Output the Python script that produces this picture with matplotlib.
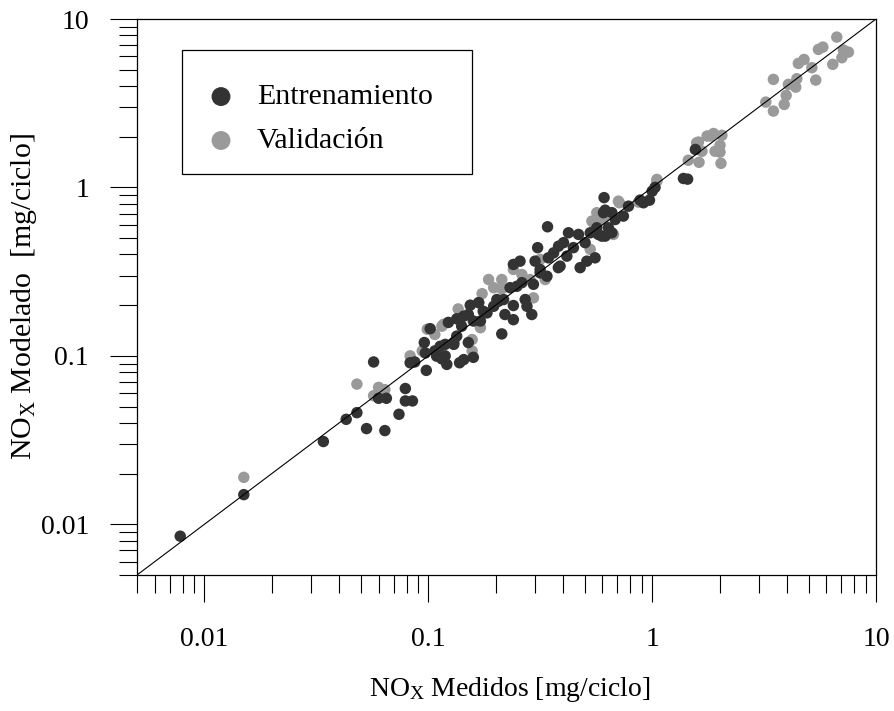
import matplotlib
matplotlib.use("Agg")
import matplotlib.pyplot as plt
from matplotlib.patches import Rectangle
from matplotlib.ticker import LogLocator, FixedLocator, FixedFormatter, NullFormatter

plt.rcParams['font.family'] = ['Liberation Serif', 'DejaVu Serif']
plt.rcParams['mathtext.fontset'] = 'custom'
plt.rcParams['mathtext.rm'] = 'Liberation Serif'
plt.rcParams['mathtext.it'] = 'Liberation Serif:italic'

# NOx medido vs modelado [mg/ciclo]
train_x = [0.0078, 0.015, 0.034, 0.043, 0.048, 0.053, 0.064, 0.057, 0.060, 0.065,
           0.074, 0.079, 0.079, 0.085, 0.083, 0.087, 0.098, 0.096, 0.102, 0.107,
           0.113, 0.119, 0.121, 0.13, 0.134, 0.138, 0.144, 0.151, 0.159, 0.123,
           0.134, 0.144, 0.151, 0.154, 0.168, 0.171, 0.183, 0.196, 0.206, 0.217,
           0.22, 0.24, 0.24, 0.271, 0.276, 0.29, 0.213, 0.232, 0.249, 0.262,
           0.295, 0.24, 0.257, 0.30, 0.308, 0.316, 0.339, 0.344, 0.363, 0.382,
           0.402, 0.388, 0.423, 0.469, 0.445, 0.416, 0.477, 0.511, 0.556, 0.502,
           0.529, 0.575, 0.617, 0.661, 0.341, 0.606, 0.661, 0.744, 0.784, 0.915,
           1.56, 1.38, 1.44, 1.03, 1.0, 0.884, 0.973, 0.61, 0.617, 0.566,
           0.638, 0.684, 0.596, 0.115, 0.141, 0.159, 0.109, 0.097, 0.13, 0.119,
           0.381, 0.316, 0.2025, 0.176]
train_y = [0.0085, 0.015, 0.031, 0.042, 0.046, 0.037, 0.036, 0.092, 0.056, 0.056,
           0.045, 0.064, 0.054, 0.054, 0.091, 0.092, 0.082, 0.12, 0.145, 0.107,
           0.114, 0.10, 0.089, 0.12, 0.131, 0.091, 0.095, 0.12, 0.098, 0.158,
           0.166, 0.172, 0.176, 0.20, 0.207, 0.161, 0.18, 0.197, 0.211, 0.216,
           0.176, 0.164, 0.199, 0.216, 0.197, 0.176, 0.135, 0.254, 0.259, 0.272,
           0.266, 0.349, 0.365, 0.365, 0.439, 0.311, 0.297, 0.382, 0.409, 0.448,
           0.47, 0.341, 0.538, 0.526, 0.439, 0.391, 0.334, 0.365, 0.382, 0.47,
           0.538, 0.526, 0.514, 0.538, 0.584, 0.708, 0.708, 0.676, 0.774, 0.811,
           1.68, 1.13, 1.12, 1.0, 0.95, 0.841, 0.84, 0.87, 0.733, 0.576,
           0.576, 0.645, 0.514, 0.096, 0.15, 0.161, 0.0996, 0.104, 0.117, 0.117,
           0.334, 0.326, 0.216, 0.184]

val_x = [0.015, 0.048, 0.06, 0.064, 0.057, 0.186, 0.213, 0.196, 0.213, 0.174,
         0.136, 0.115, 0.083, 0.099, 0.24, 0.262, 0.295, 0.333, 0.157, 0.171,
         0.529, 0.547, 0.575, 0.672, 0.714, 0.107, 0.094, 0.316, 0.285, 0.606,
         0.707, 1.05, 0.869, 1.05, 0.566, 0.538, 0.586, 0.168, 0.117, 0.157,
         6.68, 5.53, 5.79, 7.15, 7.53, 7.04, 6.41, 4.50, 4.77, 5.17,
         3.48, 4.06, 4.43, 4.38, 3.97, 5.38, 3.22, 3.89, 3.48, 1.88,
         1.82, 2.05, 1.61, 2.01, 1.91, 2.01, 1.67, 1.45, 1.62, 2.03,
         1.58, 1.76]
val_y = [0.019, 0.068, 0.065, 0.063, 0.058, 0.284, 0.284, 0.254, 0.25, 0.234,
         0.19, 0.15, 0.10, 0.144, 0.326, 0.304, 0.221, 0.284, 0.125, 0.147,
         0.429, 0.617, 0.675, 0.526, 0.811, 0.134, 0.107, 0.374, 0.284, 0.645,
         0.829, 1.116, 0.818, 1.09, 0.708, 0.631, 0.661, 0.207, 0.154, 0.107,
         7.81, 6.6, 6.81, 6.54, 6.36, 5.89, 5.38, 5.45, 5.75, 5.14,
         4.38, 4.09, 4.42, 3.94, 3.52, 4.34, 3.21, 3.11, 2.84, 2.09,
         2.02, 2.04, 1.86, 1.78, 1.64, 1.62, 1.64, 1.45, 1.41, 1.39,
         1.84, 2.02]

lims = [0.005, 10]
major = [0.01, 0.1, 1, 10]
major_labels = ['0.01', '0.1', '1', '10']

fig = plt.figure(figsize=(8.94, 7.11), dpi=100)
ax = fig.add_axes([137/894, 1 - 575/711, 739/894, 556/711])

ax.scatter(val_x, val_y, s=68, color='#9a9a9a', edgecolors='none', label='Validación', zorder=2)
ax.scatter(train_x, train_y, s=68, color='#333333', edgecolors='none', label='Entrenamiento', zorder=3)
ax.plot(lims, lims, color='black', lw=0.8, zorder=4)

ax.set_xscale('log')
ax.set_yscale('log')
ax.set_xlim(lims)
ax.set_ylim(lims)

for axis in (ax.xaxis, ax.yaxis):
    axis.set_major_locator(FixedLocator(major))
    axis.set_major_formatter(FixedFormatter(major_labels))
    axis.set_minor_locator(LogLocator(base=10, subs=range(2, 10), numticks=20))
    axis.set_minor_formatter(NullFormatter())

ax.tick_params(which='both', direction='out', width=0.8, colors='black', labelsize=20)
ax.tick_params(which='major', length=19.5)
ax.tick_params(which='minor', length=13)
ax.tick_params(axis='x', which='major', pad=18)
ax.tick_params(axis='y', which='major', pad=15)

for sp in ax.spines.values():
    sp.set_linewidth(0.9)

ax.set_xlabel(r'NO$_{\mathrm{X}}$ Medidos [mg/ciclo]', fontsize=20)
ax.set_ylabel(r'NO$_{\mathrm{X}}$ Modelado  [mg/ciclo]', fontsize=21.5)
ax.xaxis.set_label_coords(0.505, -0.18)
ax.yaxis.set_label_coords(-0.133, 0.5)

# leyenda sin marco propio; el recuadro se dibuja aparte
handles, labels = ax.get_legend_handles_labels()
leg = ax.legend(handles[::-1], labels[::-1], loc='upper left', bbox_to_anchor=(0.0955, 0.884),
                borderaxespad=0, borderpad=0, fontsize=21.5, markerscale=1.65, frameon=False,
                labelspacing=0.57, handlelength=0.9, handletextpad=0.75)
ax.add_patch(Rectangle((0.0609, 0.7212), 0.3930, 0.2230, transform=ax.transAxes,
                       facecolor='white', edgecolor='black', lw=0.9, zorder=5))
leg.set_zorder(6)

fig.savefig('out.png', dpi=100)
